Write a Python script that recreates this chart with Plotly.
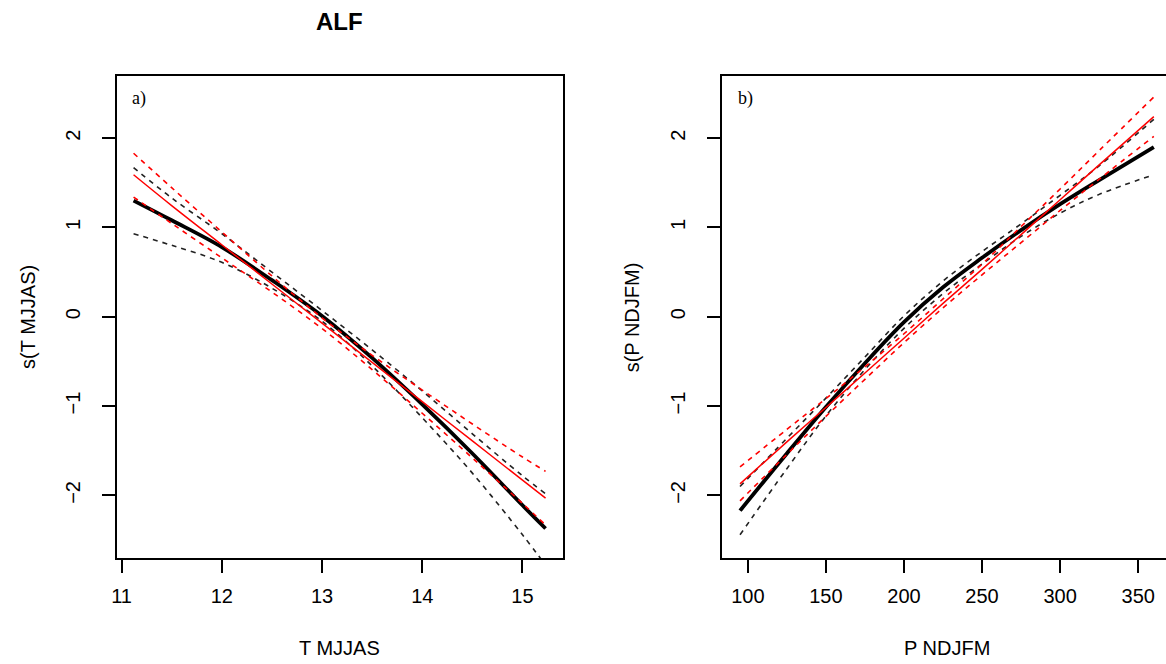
import plotly.graph_objects as go

# ---------------- data ----------------
# Panel a: T MJJAS
ta_x = [11.12, 11.5, 12.0, 12.5, 13.0, 13.5, 14.0, 14.5, 15.0, 15.23]
ta_gam = [1.30, 1.08, 0.78, 0.41, 0.01, -0.46, -0.98, -1.53, -2.11, -2.37]
ta_gam_up = [1.67, 1.33, 0.93, 0.50, 0.07, -0.37, -0.83, -1.31, -1.78, -1.98]
ta_gam_lo = [0.93, 0.80, 0.61, 0.32, -0.05, -0.55, -1.13, -1.75, -2.44, -2.78]
ta_lin = [1.59, 1.245, 0.806, 0.367, -0.072, -0.511, -0.95, -1.39, -1.828, -2.03]
ta_lin_up = [1.83, 1.445, 0.95, 0.457, -0.012, -0.431, -0.82, -1.20, -1.57, -1.73]
ta_lin_lo = [1.34, 1.045, 0.66, 0.277, -0.132, -0.591, -1.08, -1.58, -2.09, -2.33]

# Panel b: P NDJFM
pb_x = [95, 125, 150, 175, 200, 225, 250, 275, 300, 325, 360]
pb_gam = [-2.17, -1.53, -1.01, -0.52, -0.06, 0.33, 0.66, 0.97, 1.26, 1.53, 1.90]
pb_gam_up = [-1.90, -1.36, -0.91, -0.45, 0.01, 0.40, 0.73, 1.04, 1.36, 1.69, 2.21]
pb_gam_lo = [-2.44, -1.70, -1.11, -0.59, -0.13, 0.26, 0.59, 0.90, 1.16, 1.37, 1.59]
pb_lin = [-1.87, -1.40, -1.015, -0.63, -0.24, 0.15, 0.53, 0.92, 1.31, 1.70, 2.24]
pb_lin_up = [-1.68, -1.26, -0.915, -0.56, -0.19, 0.20, 0.59, 1.01, 1.43, 1.86, 2.46]
pb_lin_lo = [-2.06, -1.54, -1.115, -0.70, -0.29, 0.10, 0.47, 0.83, 1.19, 1.54, 2.02]

xa_ticks = [11, 12, 13, 14, 15]
xb_ticks = [100, 150, 200, 250, 300, 350]
y_ticks = [-2, -1, 0, 1, 2]
y_ticklabels = ["\u22122", "\u22121", "0", "1", "2"]

title_text = "ALF"
xa_title = "T MJJAS"
xb_title = "P NDJFM"
ya_title = "s(T MJJAS)"
yb_title = "s(P NDJFM)"

# ---------------- figure ----------------
W, H = 1166, 664
FONT = "Liberation Sans, Arial, sans-serif"


def px(x):
    return x / W


def py(y):
    return 1 - y / H


fig = go.Figure()

DASH = "5px,5px"


def add_panel(x, gam, up, lo, lin, lup, llo, xa, ya):
    for yy in (up, lo):
        fig.add_trace(go.Scatter(x=x, y=yy, mode="lines", xaxis=xa, yaxis=ya,
                                 line=dict(color="#222222", width=1.6, dash=DASH, shape="spline"),
                                 showlegend=False, hoverinfo="skip"))
    fig.add_trace(go.Scatter(x=x, y=gam, mode="lines", xaxis=xa, yaxis=ya,
                             line=dict(color="black", width=3.8, shape="spline"),
                             showlegend=False))
    for yy in (lup, llo):
        fig.add_trace(go.Scatter(x=x, y=yy, mode="lines", xaxis=xa, yaxis=ya,
                                 line=dict(color="#FF0000", width=1.6, dash=DASH, shape="spline"),
                                 showlegend=False, hoverinfo="skip"))
    fig.add_trace(go.Scatter(x=x, y=lin, mode="lines", xaxis=xa, yaxis=ya,
                             line=dict(color="#FF0000", width=1.5, shape="spline"),
                             showlegend=False))


add_panel(ta_x, ta_gam, ta_gam_up, ta_gam_lo, ta_lin, ta_lin_up, ta_lin_lo, "x", "y")
add_panel(pb_x, pb_gam, pb_gam_up, pb_gam_lo, pb_lin, pb_lin_up, pb_lin_lo, "x2", "y2")

axis_common = dict(showgrid=False, zeroline=False, showline=True,
                   linecolor="black", linewidth=2, ticks="outside", ticklen=13,
                   tickwidth=1.5, tickcolor="black",
                   tickfont=dict(family=FONT, size=20, color="black"))

plot_top, plot_bot = 76, 558
fig.update_layout(
    width=W, height=H,
    margin=dict(l=0, r=0, t=0, b=0),
    paper_bgcolor="white", plot_bgcolor="white",
    xaxis=dict(domain=[px(112), px(560)], range=[10.95, 15.40], tickvals=xa_ticks,
               anchor="y", ticklabelstandoff=6, mirror=True, **axis_common),
    yaxis=dict(domain=[py(plot_bot), py(plot_top)], range=[-2.70, 2.695], tickvals=y_ticks,
               ticktext=y_ticklabels, tickangle=-90, anchor="x", ticklabelstandoff=14,
               mirror=True, **axis_common),
    xaxis2=dict(domain=[px(720), 1.0], range=[83.4, 367.8], tickvals=xb_ticks,
                anchor="y2", ticklabelstandoff=6, mirror=True, **axis_common),
    yaxis2=dict(domain=[py(plot_bot), py(plot_top)], range=[-2.70, 2.695], tickvals=y_ticks,
                ticktext=y_ticklabels, tickangle=-90, anchor="x2", ticklabelstandoff=14,
                mirror=False, **axis_common),
)

ann_font = dict(family=FONT, size=20, color="black")
annotations = [
    dict(text="<b>" + title_text + "</b>", x=px(336), y=py(22), xref="paper", yref="paper",
         showarrow=False, font=dict(family=FONT, size=24, color="black"),
         xanchor="center", yanchor="middle"),
    dict(text=xa_title, x=px(336), y=py(648), xref="paper", yref="paper", showarrow=False,
         font=ann_font, xanchor="center", yanchor="middle"),
    dict(text=xb_title, x=px(946), y=py(648), xref="paper", yref="paper", showarrow=False,
         font=ann_font, xanchor="center", yanchor="middle"),
    dict(text=ya_title, x=px(23), y=py(317), xref="paper", yref="paper", showarrow=False,
         font=ann_font, textangle=-90, xanchor="center", yanchor="middle"),
    dict(text=yb_title, x=px(630), y=py(317), xref="paper", yref="paper", showarrow=False,
         font=ann_font, textangle=-90, xanchor="center", yanchor="middle"),
    dict(text="a)", x=px(126), y=py(99), xref="paper", yref="paper", showarrow=False,
         font=dict(family="Liberation Serif, Times New Roman, serif", size=18, color="black"),
         xanchor="left", yanchor="middle"),
    dict(text="b)", x=px(734), y=py(99), xref="paper", yref="paper", showarrow=False,
         font=dict(family="Liberation Serif, Times New Roman, serif", size=18, color="black"),
         xanchor="left", yanchor="middle"),
]
fig.update_layout(annotations=annotations)

fig.write_html("out.html", config={"displayModeBar": False},
               post_script="document.body.style.margin='0px';document.body.style.padding='0px';document.body.style.overflow='hidden';")
